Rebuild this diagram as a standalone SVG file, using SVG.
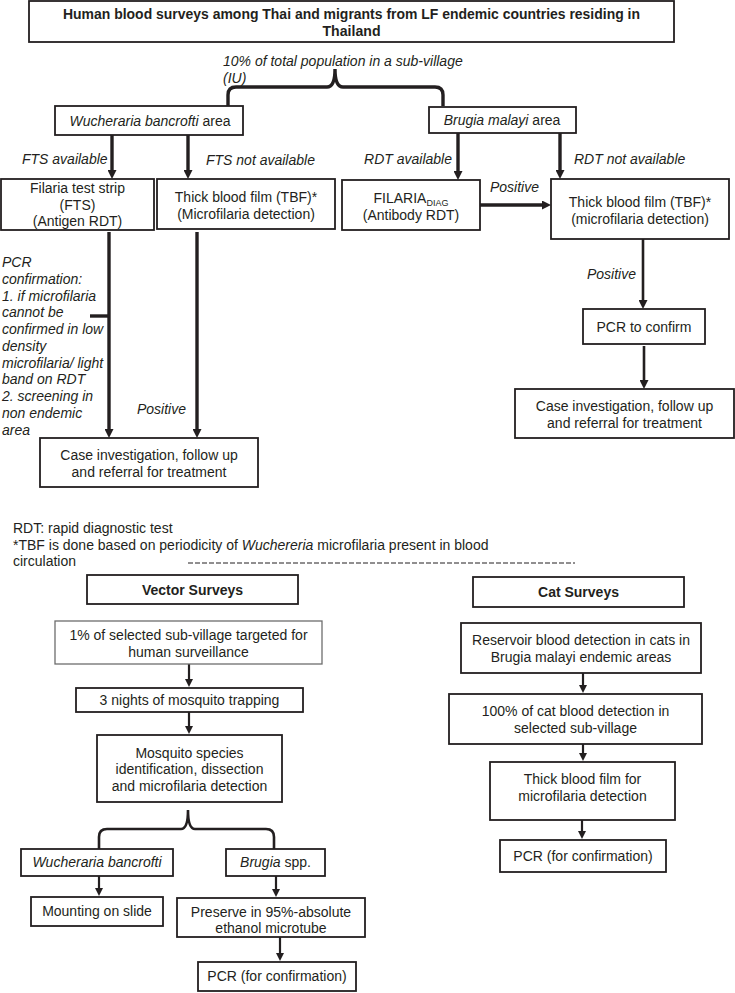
<svg xmlns="http://www.w3.org/2000/svg" width="735" height="993" viewBox="0 0 735 993">
<defs>
<style>
text{font-family:"Liberation Sans",Arial,sans-serif;font-size:14px;fill:#231f20}
.c{text-anchor:middle}
.i{font-style:italic}
.b{font-weight:bold}
.t{font-size:15.5px}
.box{fill:#fff;stroke:#231f20;stroke-width:1.8}
.gbox{fill:#fff;stroke:#6d6d6d;stroke-width:1.3}
.thick{stroke:#231f20;stroke-width:3.4;fill:none}
.mid{stroke:#231f20;stroke-width:2.6;fill:none}
.thin{stroke:#231f20;stroke-width:2.2;fill:none}
</style>
<marker id="ah" viewBox="0 0 9 9" refX="3" refY="4.5" markerWidth="9" markerHeight="9" markerUnits="userSpaceOnUse" orient="auto">
<path d="M0,0 L9,4.5 L0,9 z" fill="#231f20"/>
</marker>
<marker id="as" viewBox="0 0 8 8" refX="3" refY="4" markerWidth="8" markerHeight="8" markerUnits="userSpaceOnUse" orient="auto">
<path d="M0,0 L8,4 L0,8 z" fill="#231f20"/>
</marker>
</defs>
<rect width="735" height="993" fill="#fff"/>

<g id="connectors">
<path class="thick" d="M228,106 V95 Q228,87 236,87 H327 Q335,87 335,69 Q335,87 343,87 H435 Q443,87 443,95 V106"/>
<line class="thick" x1="112" y1="135" x2="112" y2="173" marker-end="url(#ah)"/>
<line class="thick" x1="188" y1="135" x2="188" y2="173" marker-end="url(#ah)"/>
<line class="thick" x1="458" y1="133" x2="458" y2="174" marker-end="url(#ah)"/>
<line class="thick" x1="560" y1="133" x2="560" y2="173" marker-end="url(#ah)"/>
<line class="thick" x1="480" y1="205" x2="545" y2="205" marker-end="url(#ah)"/>
<line class="mid" x1="643" y1="239" x2="643" y2="303" marker-end="url(#ah)"/>
<line class="mid" x1="644" y1="346" x2="644" y2="383" marker-end="url(#ah)"/>
<line class="thick" x1="109" y1="232" x2="109" y2="432" marker-end="url(#ah)"/>
<line class="thick" x1="197" y1="232" x2="197" y2="432" marker-end="url(#ah)"/>
<line class="thick" x1="90" y1="316" x2="109" y2="316"/>
<line x1="188" y1="563" x2="575" y2="563" stroke="#231f20" stroke-width="1" stroke-dasharray="5,2"/>
<line class="thin" x1="189" y1="664" x2="189" y2="682" marker-end="url(#as)"/>
<line class="thin" x1="189" y1="712" x2="189" y2="729" marker-end="url(#as)"/>
<path class="mid" d="M99,849 V837 Q99,829 107,829 H181 Q188,829 188,810 Q188,829 195,829 H266 Q274,829 274,837 V849"/>
<line class="thin" x1="99" y1="876" x2="99" y2="891" marker-end="url(#as)"/>
<line class="thin" x1="276" y1="876" x2="276" y2="892" marker-end="url(#as)"/>
<line class="thin" x1="280" y1="937" x2="280" y2="956" marker-end="url(#as)"/>
<line class="thin" x1="583" y1="673" x2="583" y2="688" marker-end="url(#as)"/>
<line class="thin" x1="583" y1="744" x2="583" y2="756" marker-end="url(#as)"/>
<line class="thin" x1="582" y1="820" x2="582" y2="834" marker-end="url(#as)"/>
</g>

<g id="title">
<rect class="box" x="29" y="1" width="645" height="41"/>
<text class="c b t" x="351.5" y="19" textLength="577" lengthAdjust="spacingAndGlyphs">Human blood surveys among Thai and migrants from LF endemic countries residing in</text>
<text class="c b t" x="351.5" y="36" textLength="58" lengthAdjust="spacingAndGlyphs">Thailand</text>
</g>

<g id="labels-top">
<text class="i" x="223" y="66">10% of total population in a sub-village</text>
<text class="i" x="223" y="83">(IU)</text>
<text class="i" x="22" y="164">FTS available</text>
<text class="i" x="206" y="165">FTS not available</text>
<text class="i" x="452" y="164" text-anchor="end">RDT available</text>
<text class="i" x="574" y="164">RDT not available</text>
<text class="i" x="490" y="192">Positive</text>
<text class="i" x="587" y="279">Positive</text>
<text class="i" x="137" y="414">Positive</text>
</g>

<g id="pcr-note">
<text class="i" x="2" y="267">PCR</text>
<text class="i" x="2" y="284">confirmation:</text>
<text class="i" x="2" y="301">1. if microfilaria</text>
<text class="i" x="2" y="317">cannot be</text>
<text class="i" x="2" y="334">confirmed in low</text>
<text class="i" x="2" y="351">density</text>
<text class="i" x="2" y="368">microfilaria/ light</text>
<text class="i" x="2" y="384">band on RDT</text>
<text class="i" x="2" y="401">2. screening in</text>
<text class="i" x="2" y="418">non endemic</text>
<text class="i" x="2" y="435">area</text>
</g>

<g id="wb-area">
<rect class="box" x="55" y="106" width="188" height="29"/>
<text class="c" x="150" y="126"><tspan class="i">Wucheraria bancrofti</tspan> area</text>
</g>
<g id="bm-area">
<rect class="box" x="429" y="107" width="147" height="26"/>
<text class="c" x="502" y="125"><tspan class="i">Brugia malayi</tspan> area</text>
</g>
<g id="fts">
<rect class="box" x="1" y="179" width="153" height="51"/>
<text class="c" x="77.5" y="193">Filaria test strip</text>
<text class="c" x="77.5" y="210">(FTS)</text>
<text class="c" x="77.5" y="226">(Antigen RDT)</text>
</g>
<g id="tbf-left">
<rect class="box" x="157" y="179" width="178" height="50"/>
<text class="c" x="246" y="202">Thick blood film (TBF)*</text>
<text class="c" x="246" y="219">(Microfilaria detection)</text>
</g>
<g id="filaria-diag">
<rect class="box" x="342" y="180" width="138" height="50"/>
<text class="c" x="411" y="203">FILARIA<tspan font-size="9" dy="3">DIAG</tspan></text>
<text class="c" x="411" y="220">(Antibody RDT)</text>
</g>
<g id="tbf-right">
<rect class="box" x="551" y="179" width="178" height="60"/>
<text class="c" x="640" y="207">Thick blood film (TBF)*</text>
<text class="c" x="640" y="224">(microfilaria detection)</text>
</g>
<g id="pcr-confirm">
<rect class="box" x="583" y="309" width="122" height="35"/>
<text class="c" x="644" y="332">PCR to confirm</text>
</g>
<g id="case-right">
<rect class="box" x="515" y="389" width="219" height="49"/>
<text class="c" x="624.5" y="411">Case investigation, follow up</text>
<text class="c" x="624.5" y="428">and referral for treatment</text>
</g>
<g id="case-left">
<rect class="box" x="40" y="438" width="218" height="49"/>
<text class="c" x="149" y="460">Case investigation, follow up</text>
<text class="c" x="149" y="477">and referral for treatment</text>
</g>

<g id="footnote">
<text x="13" y="533">RDT: rapid diagnostic test</text>
<text x="13" y="550">*TBF is done based on periodicity of <tspan class="i">Wuchereria</tspan> microfilaria present in blood</text>
<text x="13" y="566">circulation</text>
</g>

<g id="vector-surveys">
<rect class="box" x="87" y="575" width="211" height="29"/>
<text class="c b" x="192.5" y="595">Vector Surveys</text>
</g>
<g id="v-one-percent">
<rect class="gbox" x="55" y="621" width="267" height="43"/>
<text class="c" x="188.5" y="640">1% of selected sub-village targeted for</text>
<text class="c" x="188.5" y="657">human surveillance</text>
</g>
<g id="v-trapping">
<rect class="box" x="76" y="688" width="227" height="24"/>
<text class="c" x="189.5" y="705">3 nights of mosquito trapping</text>
</g>
<g id="v-species">
<rect class="box" x="97" y="735" width="185" height="67"/>
<text class="c" x="189.5" y="758">Mosquito species</text>
<text class="c" x="189.5" y="774">identification, dissection</text>
<text class="c" x="189.5" y="791">and microfilaria detection</text>
</g>
<g id="v-wb">
<rect class="box" x="21" y="849" width="152" height="27"/>
<text class="c i" x="97" y="867">Wucheraria bancrofti</text>
</g>
<g id="v-brugia">
<rect class="box" x="226" y="849" width="99" height="27"/>
<text class="c" x="275.5" y="867"><tspan class="i">Brugia</tspan> spp.</text>
</g>
<g id="v-mounting">
<rect class="box" x="31" y="897" width="132" height="29"/>
<text class="c" x="97" y="916">Mounting on slide</text>
</g>
<g id="v-preserve">
<rect class="box" x="177" y="898" width="188" height="39"/>
<text class="c" x="271" y="917">Preserve in 95%-absolute</text>
<text class="c" x="271" y="933">ethanol microtube</text>
</g>
<g id="v-pcr">
<rect class="box" x="198" y="962" width="158" height="29"/>
<text class="c" x="277" y="981">PCR (for confirmation)</text>
</g>

<g id="cat-surveys">
<rect class="box" x="473" y="577" width="211" height="30"/>
<text class="c b" x="578.5" y="597">Cat Surveys</text>
</g>
<g id="c-reservoir">
<rect class="box" x="461" y="623" width="240" height="50"/>
<text class="c" x="581" y="645">Reservoir blood detection in cats in</text>
<text class="c" x="581" y="662">Brugia malayi endemic areas</text>
</g>
<g id="c-hundred">
<rect class="box" x="449" y="694" width="253" height="50"/>
<text class="c" x="575.5" y="716">100% of cat blood detection in</text>
<text class="c" x="575.5" y="733">selected sub-village</text>
</g>
<g id="c-tbf">
<rect class="box" x="490" y="762" width="185" height="58"/>
<text class="c" x="582.5" y="784">Thick blood film for</text>
<text class="c" x="582.5" y="801">microfilaria detection</text>
</g>
<g id="c-pcr">
<rect class="box" x="500" y="840" width="166" height="32"/>
<text class="c" x="583" y="861">PCR (for confirmation)</text>
</g>
</svg>
